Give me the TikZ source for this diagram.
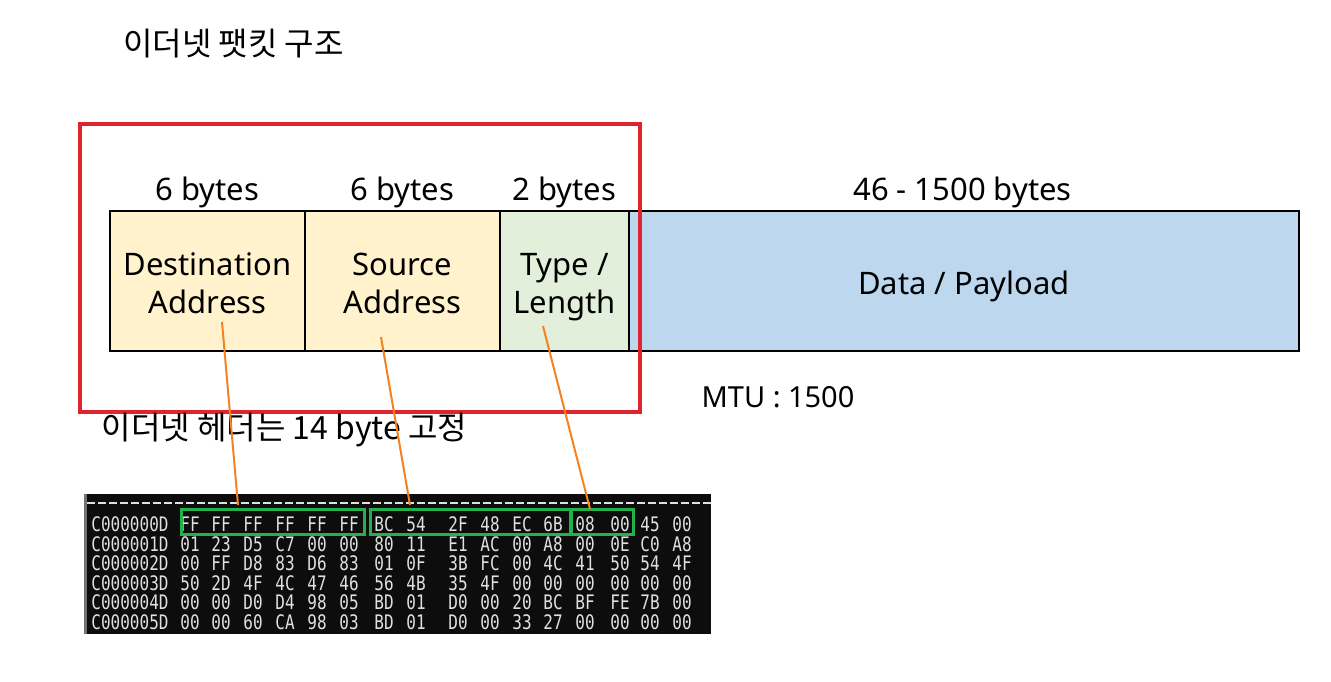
\documentclass[tikz,border=0pt]{standalone}
\usepackage{fontspec}
\setmainfont{Noto Sans}
\newfontfamily\krfont{Noto Sans CJK KR}
\newfontfamily\hexfont{DejaVu Sans Mono}
\definecolor{yel}{HTML}{FFF2CC}
\definecolor{grn}{HTML}{E2EFDA}
\definecolor{blu}{HTML}{BDD7EE}
\definecolor{redb}{HTML}{E1232D}
\definecolor{gbox}{HTML}{22B14C}
\definecolor{orn}{HTML}{F58220}
\definecolor{hexc}{HTML}{E0E0E0}
\begin{document}
\begin{tikzpicture}[x=1pt,y=-1pt,
  field/.style={draw=black, line width=1.3pt, minimum height=140pt, inner sep=0pt},
  lbl/.style={font=\fontsize{31}{38}\selectfont, inner sep=0pt, anchor=base},
  kr/.style={font=\krfont\fontsize{32}{36}\selectfont, inner sep=0pt},
  hex/.style={font=\hexfont\fontsize{20}{20}\selectfont, text=hexc, inner sep=0pt},
  gbx/.style={draw=gbox, line width=3pt, minimum height=25pt, inner sep=0pt},
  conn/.style={draw=orn, line width=2pt}]
\useasboundingbox (0,0) rectangle (1331,681);
\fill[white] (0,0) rectangle (1331,681);

% title
\node[kr] (title) at (233.5,44) {이더넷 팻킷 구조};

% fields
\node[field, fill=yel, minimum width=195pt] (dst) at (207.5,281) {};
\node[field, fill=yel, minimum width=195pt] (src) at (402.5,281) {};
\node[field, fill=grn, minimum width=129pt] (typ) at (564.5,281) {};
\node[field, fill=blu, minimum width=670pt] (dat) at (964,281) {};

% size labels
\node[lbl] (s1) at (207.5,200) {6 bytes};
\node[lbl] (s2) at (402.5,200) {6 bytes};
\node[lbl] (s3) at (564.5,200) {2 bytes};
\node[lbl] (s4) at (962.5,200) {46 - 1500 bytes};

% field texts
\node[lbl] (d1) at (207.5,275) {Destination};
\node[lbl] (d2) at (207.5,313) {Address};
\node[lbl] (r1) at (402.5,275) {Source};
\node[lbl] (r2) at (402.5,313) {Address};
\node[lbl] (t1) at (564.5,275) {Type /};
\node[lbl] (t2) at (564.5,313) {Length};
\node[lbl] (p1) at (964,294) {Data / Payload};

% red header frame
\draw[redb, line width=3.6pt] (80,124) rectangle (640,412);

\node[lbl, font=\fontsize{29}{34}\selectfont] (mtu) at (778,407) {MTU : 1500};
\node[kr] (hdr) at (284.5,430) {이더넷 헤더는 14 byte 고정};

% hex dump
\fill[black!95] (84,494) rectangle (711,634);
\fill[black!55] (84,494) rectangle (86.5,634);
\draw[hexc, line width=2pt, dash pattern=on 8pt off 3pt] (87,503) -- (711,503);
\def\colx{{190,221,253,285,317,349,384,416,458,490,522,553,585,620,650,682}}
\foreach \yy/\ad/\row [count=\r] in {
 524/C000000D/{FF,FF,FF,FF,FF,FF,BC,54,2F,48,EC,6B,08,00,45,00},
 544/C000001D/{01,23,D5,C7,00,00,80,11,E1,AC,00,A8,00,0E,C0,A8},
 563/C000002D/{00,FF,D8,83,D6,83,01,0F,3B,FC,00,4C,41,50,54,4F},
 583/C000003D/{50,2D,4F,4C,47,46,56,4B,35,4F,00,00,00,00,00,00},
 602/C000004D/{00,00,D0,D4,98,05,BD,01,D0,00,20,BC,BF,FE,7B,00},
 622/C000005D/{00,00,60,CA,98,03,BD,01,D0,00,33,27,00,00,00,00}} {
  \node[hex] (a\r) at (130,\yy) {\scalebox{0.8}[1]{\ad}};
  \foreach \v [count=\k from 0] in \row {
    \pgfmathsetmacro\xx{\colx[\k]}
    \node[hex] (h\r-\k) at (\xx,\yy) {\scalebox{0.8}[1]{\v}};
  }
}

% green boxes
\node[gbx, minimum width=183pt] (g1) at (272.5,521.5) {};
\node[gbx, minimum width=200pt] (g2) at (470,521.5) {};
\node[gbx, minimum width=62pt] (g3) at (602,521.5) {};

% connectors
\coordinate (c1) at (222,322);
\coordinate (c2) at (381,337);
\coordinate (c3) at (543,326);
\coordinate (e1) at (238,505);
\coordinate (e2) at (410,505);
\coordinate (e3) at (590,509);
\draw[conn] (c1) -- (e1);
\draw[conn] (c2) -- (e2);
\draw[conn] (c3) -- (e3);
\end{tikzpicture}
\end{document}
